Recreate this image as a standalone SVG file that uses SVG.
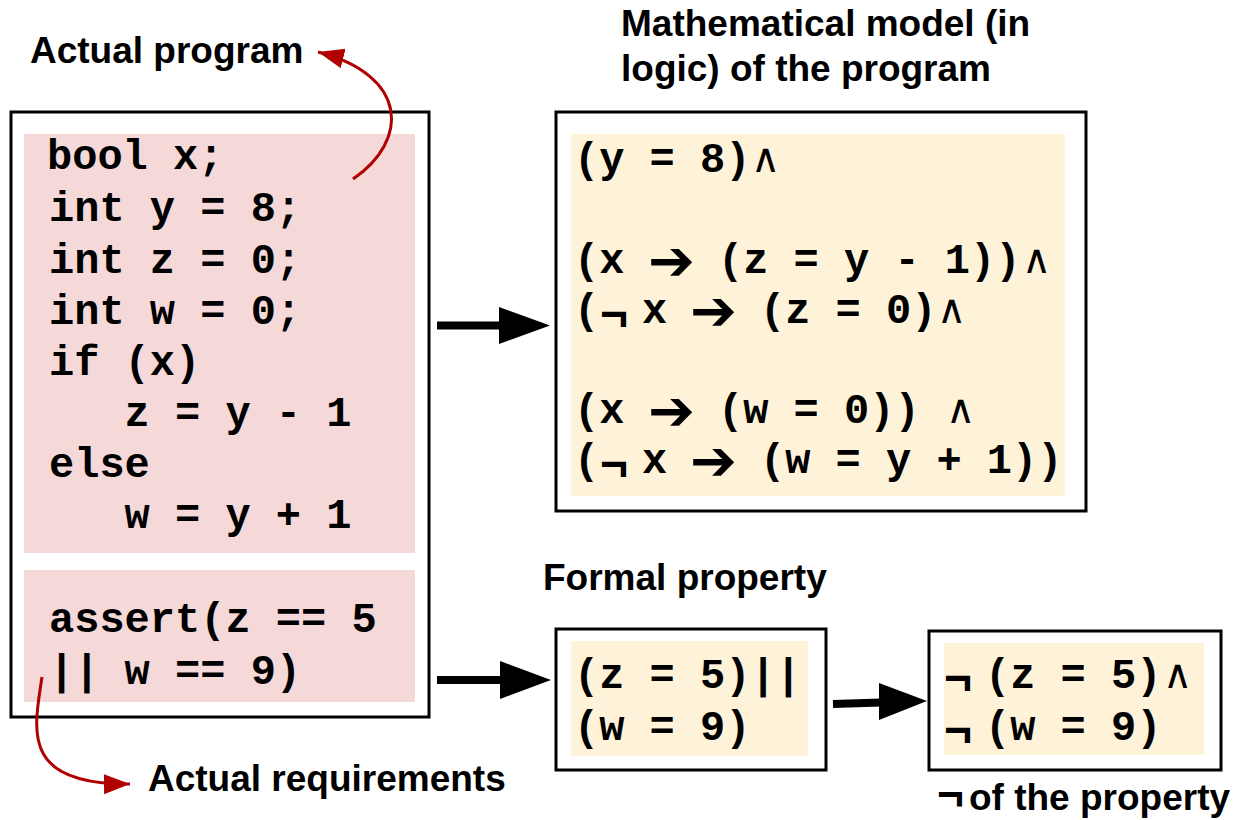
<svg xmlns="http://www.w3.org/2000/svg" width="1245" height="820" viewBox="0 0 1245 820">
<style>
.box{fill:#ffffff;stroke:#000000;stroke-width:3}
.pink{fill:#f5d8d8}
.cream{fill:#fef2d8}
.code{font-family:"Liberation Mono","Courier New",monospace;font-weight:bold;font-size:42px;fill:#000000;white-space:pre}
.lbl{font-family:"Liberation Sans",Arial,sans-serif;font-weight:bold;font-size:37px;fill:#000000}
.and{font-family:"DejaVu Sans",sans-serif;font-weight:normal;font-size:40px;fill:#000000}
.imp{font-family:"DejaVu Sans",sans-serif;font-weight:bold;font-size:56px;fill:#000000}
.neg{font-family:"Liberation Sans",Arial,sans-serif;font-weight:bold;font-size:48px}
.red{fill:none;stroke:#b10000;stroke-width:3}
.blk{stroke:#000000;stroke-width:8;fill:none}
</style>
<defs>
<marker id="redhead" markerUnits="userSpaceOnUse" markerWidth="30" markerHeight="24" refX="26" refY="10" orient="auto">
<path d="M0,0 L26,10 L0,20 Z" fill="#b10000"/>
</marker>
</defs>

<g id="label-actual-program">
<text class="lbl" x="30" y="63">Actual program</text>
</g>
<g id="label-math-model">
<text class="lbl" x="621" y="36">Mathematical model (in</text>
<text class="lbl" x="621" y="81">logic) of the program</text>
</g>
<g id="label-formal-property">
<text class="lbl" x="543" y="590">Formal property</text>
</g>
<g id="label-actual-requirements">
<text class="lbl" x="148" y="791">Actual requirements</text>
</g>
<g id="label-negation">
<text class="lbl" x="937" y="810"><tspan font-size="46px">¬</tspan><tspan x="969">of the property</tspan></text>
</g>

<g id="program">
<rect class="box" x="11" y="112" width="418" height="605"/>
<rect class="pink" x="24" y="134" width="391" height="419"/>
<rect class="pink" x="24" y="570" width="391" height="132"/>
<text class="code" xml:space="preserve"><tspan x="47" y="169">bool x;</tspan><tspan x="49" y="221">int y = 8;</tspan><tspan x="49" y="273">int z = 0;</tspan><tspan x="49" y="324">int w = 0;</tspan><tspan x="49" y="375">if (x)</tspan><tspan x="49" y="426">   z = y - 1</tspan><tspan x="49" y="477">else</tspan><tspan x="49" y="528">   w = y + 1</tspan></text>
<text class="code" xml:space="preserve"><tspan x="49" y="632">assert(z == 5</tspan><tspan x="49" y="684">|| w == 9)</tspan></text>
</g>

<g id="math-model">
<rect class="box" x="556" y="112" width="530" height="399"/>
<rect class="cream" x="571" y="134" width="494" height="362"/>
<text class="code" xml:space="preserve" x="574" y="172">(y = 8)</text>
<text class="and" x="751" y="172">∧</text>

<text class="code" xml:space="preserve" x="574" y="273">(x</text>
<text class="imp" x="648" y="280">➔</text>
<text class="code" xml:space="preserve" x="718" y="273">(z = y - 1))</text>
<text class="and" x="1022" y="273">∧</text>

<text class="code" xml:space="preserve" x="574" y="323">(<tspan class="neg" x="600" dy="7">¬</tspan><tspan x="642" dy="-7">x</tspan></text>
<text class="imp" x="690" y="330">➔</text>
<text class="code" xml:space="preserve" x="760" y="323">(z = 0)</text>
<text class="and" x="937" y="323">∧</text>

<text class="code" xml:space="preserve" x="574" y="423">(x</text>
<text class="imp" x="648" y="430">➔</text>
<text class="code" xml:space="preserve" x="718" y="423">(w = 0))</text>
<text class="and" x="946" y="423">∧</text>

<text class="code" xml:space="preserve" x="574" y="473">(<tspan class="neg" x="600" dy="7">¬</tspan><tspan x="642" dy="-7">x</tspan></text>
<text class="imp" x="690" y="480">➔</text>
<text class="code" xml:space="preserve" x="760" y="473">(w = y + 1))</text>
</g>

<g id="formal-property">
<rect class="box" x="556" y="629" width="270" height="141"/>
<rect class="cream" x="571" y="641" width="237" height="115"/>
<text class="code" xml:space="preserve"><tspan x="574" y="688">(z = 5)||</tspan><tspan x="574" y="740">(w = 9)</tspan></text>
</g>

<g id="negated-property">
<rect class="box" x="929" y="631" width="292" height="139"/>
<rect class="cream" x="944" y="643" width="260" height="112"/>
<text class="code" xml:space="preserve" x="944" y="688"><tspan class="neg" font-size="54px" dy="6">¬</tspan><tspan x="985" dy="-6">(z = 5)</tspan></text>
<text class="and" x="1163" y="688">∧</text>
<text class="code" xml:space="preserve" x="944" y="740"><tspan class="neg" font-size="54px" dy="6">¬</tspan><tspan x="985" dy="-6">(w = 9)</tspan></text>
</g>

<g id="connectors">
<path class="red" d="M353,179 C410,140 408,75 318,52" marker-end="url(#redhead)"/>
<path class="red" d="M42,677 C34,730 20,785 130,784" marker-end="url(#redhead)"/>
<line class="blk" x1="437" y1="325.5" x2="501" y2="325.5"/>
<polygon points="499,307 550,325.5 499,344" fill="#000000"/>
<line class="blk" x1="437" y1="680" x2="502" y2="680"/>
<polygon points="500,661 551,680 500,699" fill="#000000"/>
<line class="blk" x1="833" y1="704" x2="881" y2="702.5"/>
<polygon points="879,683 927,701 879,720" fill="#000000"/>
</g>
</svg>
